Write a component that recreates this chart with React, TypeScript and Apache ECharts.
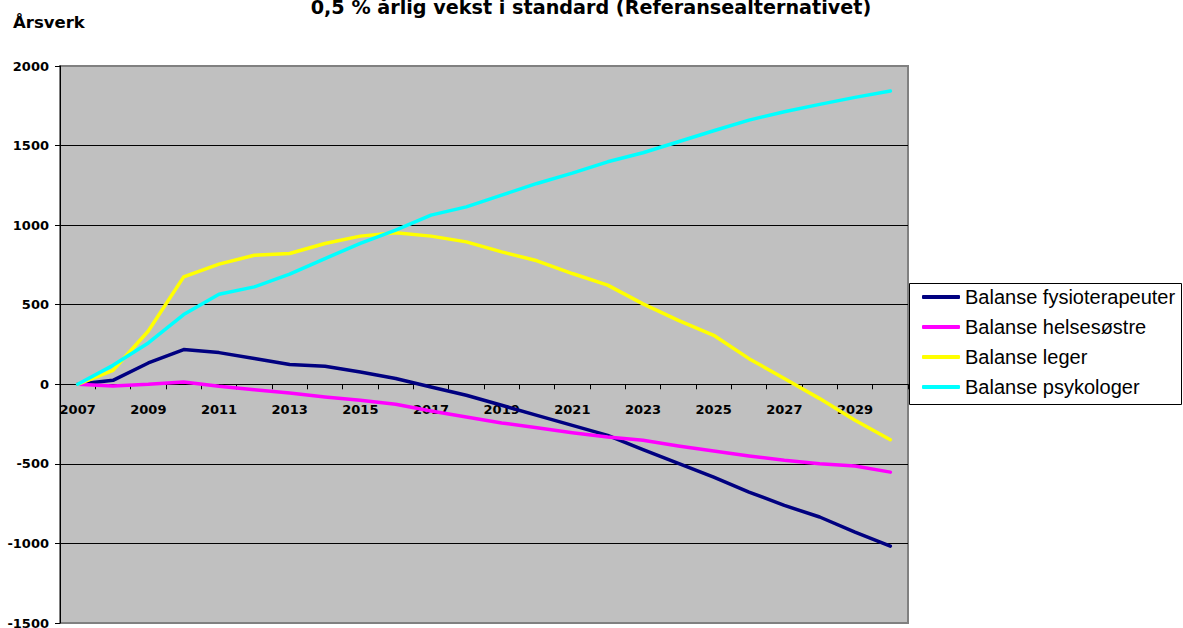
import React, { useEffect, useRef } from "react";
import * as echarts from "echarts";

const years = ["2007","2008","2009","2010","2011","2012","2013","2014","2015","2016","2017","2018","2019","2020","2021","2022","2023","2024","2025","2026","2027","2028","2029","2030"];
const fysio = [0, 25, 134, 218, 199, 162, 124, 113, 77, 36, -17, -69, -132, -195, -258, -321, -410, -497, -583, -677, -761, -834, -929, -1017];
const helse = [0, -10, 0, 15, -12, -34, -55, -80, -101, -126, -168, -205, -243, -273, -304, -331, -352, -388, -419, -450, -478, -499, -514, -552];
const leger = [0, 88, 335, 675, 755, 811, 822, 885, 931, 952, 931, 895, 832, 776, 696, 623, 505, 402, 308, 161, 36, -90, -226, -348];
const psyk = [0, 119, 260, 438, 566, 612, 692, 790, 885, 969, 1063, 1115, 1189, 1262, 1327, 1398, 1455, 1524, 1593, 1660, 1713, 1759, 1803, 1843];
const seriesNames = ["Balanse fysioterapeuter", "Balanse helsesøstre", "Balanse leger", "Balanse psykologer"];
const seriesColors = ["#000080", "#FF00FF", "#FFFF00", "#00FFFF"];
const titleText = "0,5 % årlig vekst i standard (Referansealternativet)";
const yTitle = "Årsverk";
const yMin = -1500;
const yMax = 2000;

export default function App() {
  const ref = useRef<HTMLDivElement>(null);
  useEffect(() => {
    const chart = echarts.init(ref.current!, null, { renderer: "svg" });
    const data = [fysio, helse, leger, psyk];
    const labelFont = { fontFamily: "DejaVu Sans", fontWeight: "bold" as const, fontSize: 13, color: "#000" };
    const gridTop = 66;
    const gridBottom = 5;
    const gridH = 628 - gridTop - gridBottom;
    const zeroFromBottom = (gridH * (0 - yMin)) / (yMax - yMin);
    chart.setOption({
      animation: false,
      backgroundColor: "#fff",
      grid: {
        left: 60, right: 275, top: gridTop, bottom: gridBottom, containLabel: false, outerBoundsMode: "none",
        show: true, backgroundColor: "#C0C0C0", borderColor: "#808080", borderWidth: 2,
      },
      graphic: [
        { type: "text", x: 591, y: 7, style: { text: titleText, fill: "#000", font: "bold 19.2px 'DejaVu Sans'", align: "center", verticalAlign: "middle" } },
        { type: "text", x: 13, y: 22, style: { text: yTitle, fill: "#000", font: "bold 16.5px 'DejaVu Sans'", align: "left", verticalAlign: "middle" } },
        { type: "rect", shape: { x: 909.5, y: 283.5, width: 272, height: 121 }, style: { fill: "#fff", stroke: "#000", lineWidth: 1 }, z: 0 },
      ],
      legend: {
        orient: "vertical", left: 922, top: 287, padding: 0, itemGap: 10,
        itemWidth: 38, itemHeight: 4, icon: "roundRect",
        textStyle: { fontFamily: "Liberation Sans", fontSize: 20, color: "#000", padding: [0, 0, 0, 0] },
        data: seriesNames, z: 5,
      },
      xAxis: {
        type: "category", data: years, boundaryGap: true, position: "bottom", offset: -zeroFromBottom,
        axisLine: { onZero: false, lineStyle: { color: "#000", width: 1 } },
        axisTick: { show: true, length: 5, interval: 0, lineStyle: { color: "#000" } },
        axisLabel: { ...labelFont, interval: 1, margin: 19 },
        splitLine: { show: false },
      },
      yAxis: {
        type: "value", min: yMin, max: yMax, interval: 500,
        axisLine: { show: true, lineStyle: { color: "#000", width: 1 } },
        axisTick: { show: true, length: 5, lineStyle: { color: "#000" } },
        axisLabel: { ...labelFont, margin: 11, formatter: (v: number) => String(v) },
        splitLine: { show: true, showMinLine: false, showMaxLine: false, lineStyle: { color: "#000", width: 1 } },
      },
      series: seriesNames.map((n, i) => ({
        name: n, type: "line", data: data[i], showSymbol: false, symbol: "none",
        lineStyle: { color: seriesColors[i], width: 3.5, cap: "round", join: "round" },
        itemStyle: { color: seriesColors[i] },
      })),
    });
    return () => chart.dispose();
  }, []);
  return <div ref={ref} style={{ position: "absolute", left: 0, top: 0, width: 1183, height: 628 }} />;
}
